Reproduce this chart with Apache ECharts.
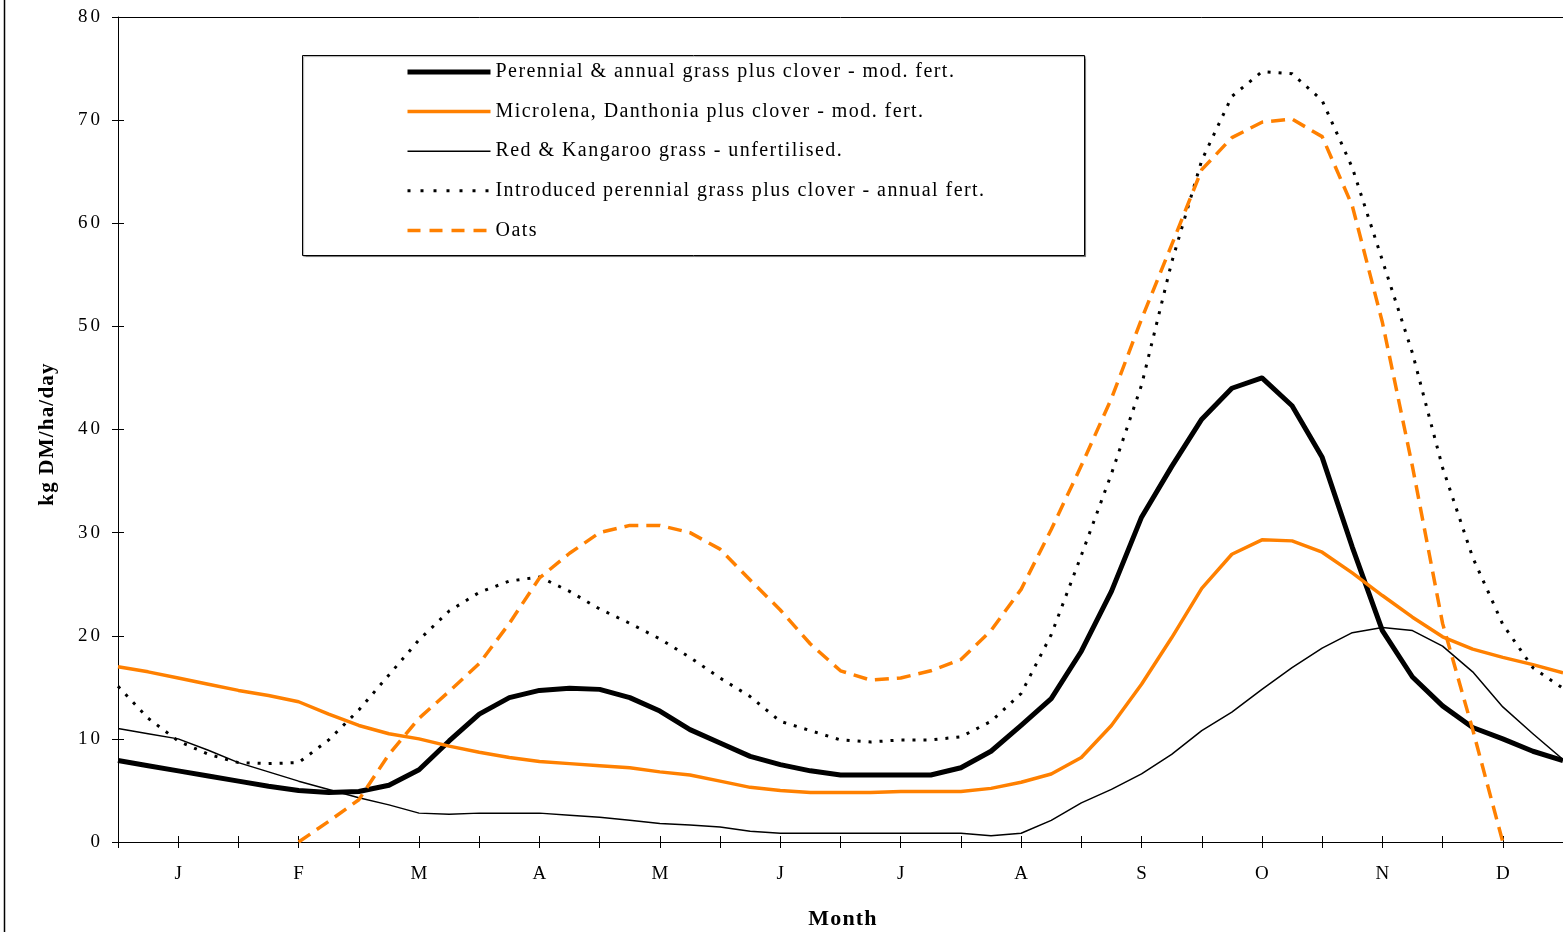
<!DOCTYPE html>
<html>
<head>
<meta charset="utf-8">
<script src="https://cdn.jsdelivr.net/npm/echarts@6/dist/echarts.min.js"></script>
<style>html,body{margin:0;padding:0;background:#fff}#c{width:1563px;height:932px}</style>
</head>
<body>
<div id="c"></div>
<script>
const monthLabels = ['J','F','M','A','M','J','J','A','S','O','N','D'];
const xMonths = [0,0.25,0.5,0.75,1,1.25,1.5,1.75,2,2.25,2.5,2.75,3,3.25,3.5,3.75,4,4.25,4.5,4.75,5,5.25,5.5,5.75,6,6.25,6.5,6.75,7,7.25,7.5,7.75,8,8.25,8.5,8.75,9,9.25,9.5,9.75,10,10.25,10.5,10.75,11,11.25,11.5,11.75,12];
const perennial = [7.9,7.4,6.9,6.4,5.9,5.4,5.0,4.8,4.9,5.5,7.0,9.8,12.4,14.0,14.7,14.9,14.8,14.0,12.7,10.9,9.6,8.3,7.5,6.9,6.5,6.5,6.5,6.5,7.2,8.8,11.3,13.9,18.5,24.3,31.5,36.4,41.0,44.0,45.0,42.3,37.3,28.6,20.5,16.0,13.2,11.1,10.0,8.8,7.9];
const microlena = [17.0,16.5,15.9,15.3,14.7,14.2,13.6,12.4,11.3,10.5,10.0,9.3,8.7,8.2,7.8,7.6,7.4,7.2,6.8,6.5,5.9,5.3,5.0,4.8,4.8,4.8,4.9,4.9,4.9,5.2,5.8,6.6,8.2,11.3,15.3,19.8,24.6,27.9,29.3,29.2,28.1,26.1,23.9,21.8,19.9,18.7,17.9,17.2,16.4];
const redKangaroo = [11.0,10.5,10.0,8.9,7.7,6.8,5.9,5.1,4.3,3.6,2.8,2.7,2.8,2.8,2.8,2.6,2.4,2.1,1.8,1.65,1.45,1.05,0.85,0.85,0.85,0.85,0.85,0.85,0.85,0.6,0.85,2.1,3.8,5.1,6.6,8.5,10.8,12.6,14.8,16.9,18.8,20.3,20.8,20.5,19.0,16.5,13.1,10.5,8.0];
const introduced = [15.1,12.0,9.8,8.5,7.7,7.6,7.7,9.9,12.8,16.2,19.6,22.4,24.2,25.3,25.7,24.3,22.6,21.2,19.7,17.9,15.9,14.1,11.7,10.8,9.9,9.7,9.9,9.9,10.2,11.7,14.4,20.1,27.8,35.7,44.3,56.2,66.1,72.3,74.7,74.5,71.9,65.4,56.4,47.4,36.3,27.6,21.1,16.9,14.9];
const oatsX = [1.5,1.75,2,2.25,2.5,2.75,3,3.25,3.5,3.75,4,4.25,4.5,4.75,5,5.25,5.5,5.75,6,6.25,6.5,6.75,7,7.25,7.5,7.75,8,8.25,8.5,8.75,9,9.25,9.5,9.75,10,10.25,10.5,10.75,11,11.25,11.5];
const oats = [0,2.0,4.1,8.5,12.0,14.6,17.3,21.2,25.6,28.0,30.0,30.7,30.7,30.0,28.4,25.4,22.5,19.2,16.6,15.7,15.9,16.6,17.7,20.5,24.5,30.3,36.5,43.0,50.7,57.9,65.2,68.3,69.8,70.1,68.4,61.7,50.4,36.4,21.2,10.9,0];
const yTicks = [0,10,20,30,40,50,60,70,80];

const names = [
  'Perennial & annual grass plus clover - mod. fert.',
  'Microlena, Danthonia plus clover - mod. fert.',
  'Red & Kangaroo grass - unfertilised.',
  'Introduced perennial grass plus clover - annual fert.',
  'Oats'
];
const ORANGE = '#ff8000';
const FONT = '"Liberation Serif", "Times New Roman", serif';

// the reference typesetting is letter-spaced; apply it at draw time only
(function(){
  const P = CanvasRenderingContext2D.prototype;
  const orig = P.fillText;
  P.fillText = function(t, x, y, m){
    const f = this.font || '';
    if ('letterSpacing' in this) {
      if (/bold/.test(f)) this.letterSpacing = '1.2px';
      else if (/(^|\s)19px/.test(f)) this.letterSpacing = '3px';
      else if (/(^|\s)20px/.test(f)) this.letterSpacing = '1.45px';
      else this.letterSpacing = '0px';
    }
    return m === undefined ? orig.call(this, t, x, y) : orig.call(this, t, x, y, m);
  };
})();

function pairs(xs, ys){ return xs.map((x,i)=>[x, ys[i]]); }

const chart = echarts.init(document.getElementById('c'), null, {renderer:'canvas'});
const styles = [
  {color:'#000', width:5, type:'solid', legendType:'solid'},
  {color:ORANGE, width:3.5, type:'solid', legendType:'solid'},
  {color:'#000', width:1.5, type:'solid', legendType:'solid'},
  {color:'#000', width:3, type:[3,8], legendType:[3,10]},
  {color:ORANGE, width:3.5, type:[14,8], legendType:[13,9]}
];
const dataSets = [
  pairs(xMonths, perennial),
  pairs(xMonths, microlena),
  pairs(xMonths, redKangaroo),
  pairs(xMonths, introduced),
  pairs(oatsX, oats)
];

chart.setOption({
  animation:false,
  backgroundColor:'#fff',
  grid:{left:118, right:0, top:17, bottom:90, show:false, containLabel:false, outerBoundsMode:'none'},
  xAxis:[{
    type:'value', min:0, max:12, interval:0.5,
    axisLine:{show:true, onZero:false, lineStyle:{color:'#000', width:1}},
    axisTick:{show:true, length:6, lineStyle:{color:'#000'}},
    splitLine:{show:false},
    axisLabel:{margin:23, color:'#000', fontFamily:FONT, fontSize:19, padding:[0,0,0,3],
      formatter:function(v){ const k=Math.round(v*2); return (k%2===1)? monthLabels[(k-1)/2] : ''; }}
  },{
    type:'value', min:0, max:12, interval:0.5, position:'bottom',
    axisLine:{show:false, onZero:false},
    axisTick:{show:true, inside:true, length:6, lineStyle:{color:'#000'}},
    splitLine:{show:false}, axisLabel:{show:false}
  }],
  yAxis:[{
    type:'value', min:0, max:80, interval:10,
    axisLine:{show:true, onZero:false, lineStyle:{color:'#000', width:1}},
    axisTick:{show:true, length:6, lineStyle:{color:'#000'}},
    splitLine:{show:false},
    axisLabel:{margin:15, color:'#000', fontFamily:FONT, fontSize:19}
  },{
    type:'value', min:0, max:80, interval:10, position:'left',
    axisLine:{show:false, onZero:false},
    axisTick:{show:true, inside:true, length:6, lineStyle:{color:'#000'}},
    splitLine:{show:false}, axisLabel:{show:false}
  }],
  legend:{
    orient:'vertical', left:405, top:62, padding:0, z:6,
    itemWidth:83, itemHeight:20, itemGap:19.6,
    selectedMode:false,
    textStyle:{fontFamily:FONT, fontSize:20, color:'#000', lineHeight:20},
    data:names.map((n,i)=>({name:n,
      itemStyle:{opacity:0, color:'rgba(0,0,0,0)', borderWidth:0},
      lineStyle:{width:styles[i].width, type:styles[i].legendType, color:styles[i].color}}))
  },
  graphic:[
    {type:'line', shape:{x1:4.5, y1:0, x2:4.5, y2:932}, style:{stroke:'#000', lineWidth:1.5}, z:10},
    {type:'line', shape:{x1:118, y1:17.5, x2:1563, y2:17.5}, style:{stroke:'#000', lineWidth:1}, z:10},
    {type:'rect', shape:{x:302.5, y:55.5, width:782, height:200}, style:{fill:'#fff', stroke:'#000', lineWidth:1, shadowColor:'rgba(0,0,0,0.35)', shadowOffsetX:1, shadowOffsetY:1, shadowBlur:1}, z:3},
    {type:'text', x:48, y:434, rotation:Math.PI/2, style:{text:'kg DM/ha/day', font:'bold 21px '+FONT, fill:'#000', align:'center', verticalAlign:'middle'}, z:10},
    {type:'text', x:843, y:919, style:{text:'Month', font:'bold 22px '+FONT, fill:'#000', align:'center', verticalAlign:'middle'}, z:10}
  ],
  series:dataSets.map((d,i)=>({
    name:names[i], type:'line', data:d, xAxisIndex:0, yAxisIndex:0,
    symbol:'none', smooth:false, clip:true,
    lineStyle:{color:styles[i].color, width:styles[i].width, type:styles[i].type, cap:'butt', join:'round'},
    itemStyle:{color:styles[i].color},
    emphasis:{disabled:true}, z:2
  }))
});
</script>
</body>
</html>
